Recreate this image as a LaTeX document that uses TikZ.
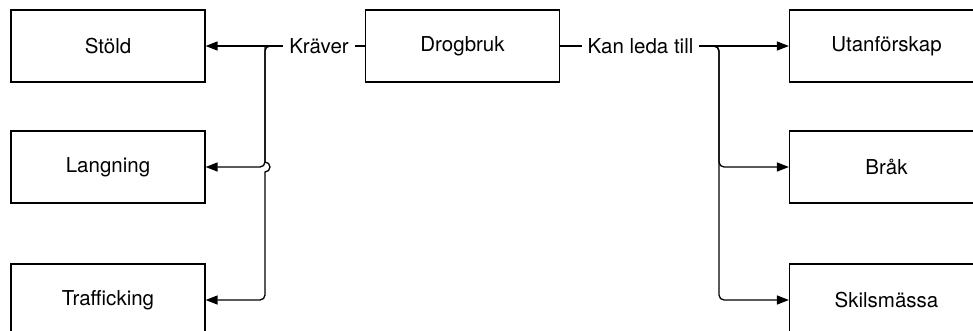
\documentclass[tikz,border=0pt]{standalone}
\usepackage{fontspec}
\setmainfont{TeX Gyre Heros}
\usetikzlibrary{arrows.meta}
\begin{document}
\begin{tikzpicture}[x=1pt,y=1pt,
  box/.style={draw=black, line width=1.2pt, minimum width=194pt, minimum height=72pt, inner sep=0pt, font=\fontsize{20.5}{24}\selectfont},
  edge/.style={draw=black, line width=1.3pt, -{Triangle[length=12pt,width=9pt]}},
  lbl/.style={fill=white, inner xsep=6pt, inner ysep=2pt, font=\fontsize{20.5}{24}\selectfont}]
\useasboundingbox (0,0) rectangle (973,330);
\begin{scope}
\clip (0,0) rectangle (973,330);
\node[box] (stold) at (108,284) {Stöld};
\node[box] (lang)  at (108,163) {Langning};
\node[box] (traf)  at (108,30)  {Trafficking};
\node[box] (drog)  at (462.5,284) {Drogbruk};
\node[box] (utan)  at (886.5,284) {Utanförskap};
\node[box] (brak)  at (886.5,163) {Bråk};
\node[box] (skil)  at (886.5,30)  {Skilsmässa};
\coordinate (jl) at (265,284);
\coordinate (jr) at (719,284);
% left edges
\draw[edge] (drog.west) -- (stold.east);
\draw[edge] (drog.west) -- (jl) -- ([yshift=5]jl |- lang.east) arc[start angle=90,end angle=-90,radius=5] [rounded corners=5] |- (traf.east);
\draw[edge, rounded corners=5] (drog.west) -- (jl) |- (lang.east);
% right edges
\draw[edge] (drog.east) -- (utan.west);
\draw[edge, rounded corners=5] (drog.east) -- (jr) |- (brak.west);
\draw[edge, rounded corners=5] (drog.east) -- (jr) |- (skil.west);
% labels
\node[lbl] (kraver) at (319,284) {Kräver};
\node[lbl] (kan) at (640.5,284) {Kan leda till};
\end{scope}
\end{tikzpicture}
\end{document}
